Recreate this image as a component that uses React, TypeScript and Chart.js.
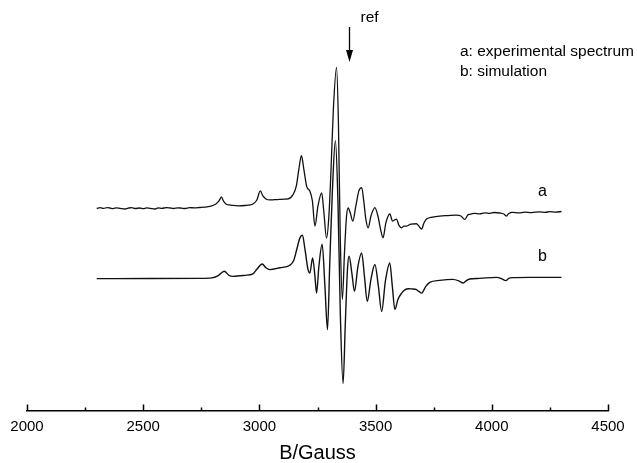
import React, { useEffect, useRef } from "react";
import { Chart, registerables } from "chart.js";

Chart.register(...registerables);

// Magnetic field (Gauss) and signal deviations from each trace's baseline (arbitrary units)
const expField = [
  2300, 2315, 2330, 2345, 2357, 2370, 2385, 2400, 2421, 2435, 2450, 2465, 2486, 2500, 2515, 2530,
  2551, 2565, 2580, 2600, 2615, 2630, 2650, 2665, 2680, 2700, 2720, 2744, 2765, 2787, 2813, 2826,
  2837, 2845, 2856, 2870, 2886, 2910, 2938, 2960, 2972, 2989, 3004, 3015, 3028, 3045, 3065, 3088,
  3105, 3123, 3144, 3159, 3170, 3181, 3191, 3204, 3217, 3228, 3239, 3252, 3268, 3277, 3289, 3299,
  3308, 3318, 3332, 3340, 3348, 3357, 3366, 3375, 3382, 3391, 3402, 3415, 3428, 3440, 3449, 3458,
  3468, 3480, 3497, 3510, 3523, 3532, 3544, 3561, 3573, 3590, 3600, 3612, 3622, 3633, 3652, 3676,
  3686, 3698, 3708, 3719, 3746, 3776, 3811, 3848, 3867, 3884, 3897, 3905, 3925, 3948, 3970, 3991,
  4010, 4034, 4052, 4063, 4073, 4090, 4115, 4142, 4170, 4206, 4230, 4249, 4275, 4300,
];
const expSignal = [
  -0.5, 0.3, -0.4, 0.4, 0, -0.6, 0.2, -0.3, -1, -0.2, 0.4, -0.5, 0, -0.7, 0.1, -0.4,
  -1, 0.2, -0.3, 0.3, 0, -0.5, 0.2, -0.2, -0.5, 0.3, 0.2, 0.5, 0.8, 1.5, 4, 7,
  11, 7, 4, 3, 2.5, 2.2, 2.5, 3, 4, 8, 17, 12, 9, 8, 8.3, 8.5,
  8.8, 9, 13, 22, 39, 52, 39, 21, 17, 7, -18, 2, 15, -3, -30, -8,
  37, 97, 140, 85, -30, -91, -45, -8, 0, -5, -13, 2, 17, 20.3, 7, -11,
  -19.7, -8, 0.3, -8, -23, -29.7, -15, -6, -13, -11, -17, -19.7, -18, -18, -16, -15.7,
  -18, -21, -15, -11, -9, -8, -7.5, -7, -8, -11.3, -7, -6.3, -5.4, -5.9, -4.9, -5.4,
  -4.5, -5.0, -6, -8, -5.5, -4.3, -4.9, -4.2, -4.6, -3.8, -4.3, -3.7, -4.1, -3.5,
];

const simField = [
  2300, 2529, 2744, 2796, 2821, 2849, 2869, 2887, 2938, 2972, 2989, 3012, 3028, 3045, 3088, 3131,
  3148, 3161, 3174, 3185, 3196, 3209, 3217, 3229, 3239, 3246, 3256, 3270, 3282, 3293, 3303, 3314,
  3327, 3338, 3348, 3360, 3370, 3379, 3386, 3398, 3409, 3424, 3440, 3452, 3464, 3480, 3497, 3512,
  3526, 3542, 3561, 3572, 3583, 3596, 3612, 3626, 3640, 3656, 3676, 3686, 3698, 3716, 3733, 3776,
  3832, 3858, 3877, 3892, 3905, 3948, 4020, 4043, 4060, 4073, 4090, 4163, 4300,
];
const simSignal = [
  -0.3, -0.2, 0, 0.5, 2.5, 7, 3, 2, 3, 4.5, 9, 14.3, 10.5, 8.7, 10.5, 13,
  18, 29, 40, 43, 29, 9, 5.3, 20.3, 2, -14.7, 12, 34, -8, -51, 17, 87,
  137, 77, -33, -104.7, -43, 9, 22, 5, -13, 12, 25.3, 2, -23, -1, 13.7, -8,
  -33, -3, 15.3, -8, -31, -21, -14.7, -11.5, -10.3, -10.5, -11.3, -13, -14.7, -8, -4, -2,
  -1, -2.5, -4.7, -2, -0.7, 0, 1, -0.5, -2.3, 0, 0.7, 1, 1,
];

const expOffset = 202;
const simOffset = 132;
const refField = 3386;
const xTicks = [2000, 2250, 2500, 2750, 3000, 3250, 3500, 3750, 4000, 4250, 4500];
const labelField = 4218;
const legendLines = ["a: experimental spectrum", "b: simulation"];
const xTitle = "B/Gauss";

const FONT = "'Liberation Sans', Arial, Helvetica, sans-serif";

export default function App() {
  const ref = useRef<HTMLCanvasElement | null>(null);

  useEffect(() => {
    if (!ref.current) return;
    const expData = expField.map((x, i) => ({ x, y: expOffset + expSignal[i] }));
    const simData = simField.map((x, i) => ({ x, y: simOffset + simSignal[i] }));

    const overlay = {
      id: "overlay",
      afterDraw(chart: any) {
        const ctx = chart.ctx;
        const xs = chart.scales.x;
        const ys = chart.scales.y;
        const area = chart.chartArea;
        ctx.save();
        // tick marks pointing up from axis line
        ctx.strokeStyle = "#000";
        ctx.lineWidth = 1.5;
        xTicks.forEach((v) => {
          const px = Math.round(xs.getPixelForValue(v)) + 0.5;
          const len = v % 500 === 0 ? 6.5 : 3.5;
          ctx.beginPath();
          ctx.moveTo(px, area.bottom);
          ctx.lineTo(px, area.bottom - len);
          ctx.stroke();
        });
        // ref arrow
        const rx = Math.round(xs.getPixelForValue(refField)) + 0.5;
        ctx.lineWidth = 1.3;
        ctx.beginPath();
        ctx.moveTo(rx, 27);
        ctx.lineTo(rx, 54);
        ctx.stroke();
        ctx.fillStyle = "#000";
        ctx.beginPath();
        ctx.moveTo(rx - 3.5, 50);
        ctx.lineTo(rx + 3.5, 50);
        ctx.lineTo(rx, 62);
        ctx.closePath();
        ctx.fill();
        ctx.font = `15.5px ${FONT}`;
        ctx.textBaseline = "middle";
        ctx.textAlign = "left";
        ctx.fillText("ref", rx + 11, 18);
        // legend text
        ctx.fillText(legendLines[0], 460, 52);
        ctx.fillText(legendLines[1], 460, 72);
        // trace labels
        ctx.textAlign = "center";
        const lx = xs.getPixelForValue(labelField);
        ctx.font = `16px ${FONT}`;
        ctx.fillText("a", lx, ys.getPixelForValue(expOffset + 16));
        ctx.fillText("b", lx, ys.getPixelForValue(simOffset + 22));
        ctx.restore();
      },
    };

    const chart = new Chart(ref.current, {
      type: "line",
      data: {
        datasets: [
          {
            label: "a",
            data: expData,
            borderColor: "#111",
            borderWidth: 1.3,
            pointRadius: 0,
            cubicInterpolationMode: "monotone",
            fill: false,
          },
          {
            label: "b",
            data: simData,
            borderColor: "#111",
            borderWidth: 1.4,
            pointRadius: 0,
            cubicInterpolationMode: "monotone",
            fill: false,
          },
        ],
      },
      options: {
        animation: false,
        responsive: false,
        layout: { padding: { left: 27, right: 29, top: 9, bottom: 0 } },
        plugins: { legend: { display: false }, tooltip: { enabled: false } },
        scales: {
          x: {
            type: "linear",
            min: 2000,
            max: 4500,
            grid: { display: false, drawTicks: false },
            border: { display: true, color: "#000", width: 1.5 },
            afterBuildTicks: (axis: any) => {
              axis.ticks = xTicks.map((v) => ({ value: v }));
            },
            ticks: {
              color: "#000",
              padding: 7,
              maxRotation: 0,
              autoSkip: false,
              font: { family: FONT, size: 15 },
              callback: (v: any) => (Number(v) % 500 === 0 ? String(v) : ""),
            },
            title: {
              display: true,
              text: xTitle,
              color: "#000",
              font: { family: FONT, size: 20, lineHeight: 1 },
              padding: { top: 0, bottom: 0 },
            },
          },
          y: { display: false, min: 0, max: 400 },
        },
      },
      plugins: [overlay],
    });
    return () => chart.destroy();
  }, []);

  return (
    <div style={{ position: "absolute", left: 0, top: 0, width: 637, height: 463, background: "#fff" }}>
      <canvas ref={ref} width={637} height={463} />
    </div>
  );
}
